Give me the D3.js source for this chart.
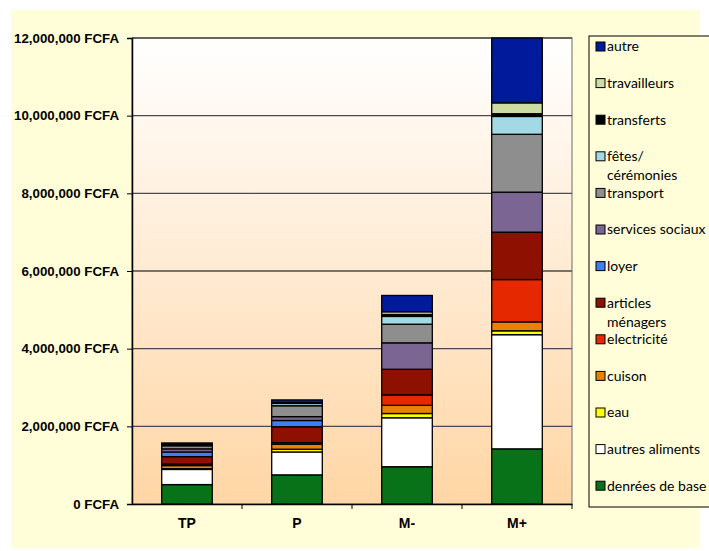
<!DOCTYPE html>
<html>
<head>
<meta charset="utf-8">
<script src="https://cdn.jsdelivr.net/npm/d3@7"></script>
<style>
  html, body { margin: 0; padding: 0; background: #ffffff; }
  svg { display: block; }
</style>
</head>
<body>
<svg id="chart" width="709" height="551"></svg>
<script>
// Household groups
const categories = ["TP", "P", "M-", "M+"];

// Monthly spending per expense type (FCFA), one value per group
const denreesDeBase    = [500000, 750000, 960000, 1420000];
const autresAliments   = [390000, 590000, 1260000, 2940000];
const eau              = [20000, 70000, 110000, 100000];
const cuison           = [80000, 130000, 210000, 230000];
const electricite      = [40000, 40000, 270000, 1090000];
const articlesMenagers = [190000, 410000, 660000, 1220000];
const loyer            = [120000, 160000, 0, 0];
const servicesSociaux  = [80000, 100000, 680000, 1030000];
const transport        = [80000, 280000, 480000, 1490000];
const fetesCeremonies  = [10000, 60000, 200000, 460000];
const transferts       = [50000, 10000, 50000, 70000];
const travailleurs     = [0, 10000, 70000, 280000];
const autre            = [10000, 70000, 420000, 1670000];

// Stack order, bottom to top
const seriesNames = ["denrées de base", "autres aliments", "eau", "cuison", "electricité",
  "articles ménagers", "loyer", "services sociaux", "transport", "fêtes/ cérémonies",
  "transferts", "travailleurs", "autre"];
const seriesValues = [denreesDeBase, autresAliments, eau, cuison, electricite,
  articlesMenagers, loyer, servicesSociaux, transport, fetesCeremonies,
  transferts, travailleurs, autre];
const seriesColors = ["#077217", "#ffffff", "#ffff00", "#e88200", "#e52800",
  "#8e1000", "#3f7fef", "#7a6593", "#8e8e8e", "#a3d8e5",
  "#000000", "#ccdca3", "#001a9c"];

// Legend lines (top to bottom)
const legendLabels = [["autre"], ["travailleurs"], ["transferts"], ["fêtes/", "cérémonies"],
  ["transport"], ["services sociaux"], ["loyer"], ["articles", "ménagers"], ["electricité"],
  ["cuison"], ["eau"], ["autres aliments"], ["denrées de base"]];

const yTicks = [0, 2000000, 4000000, 6000000, 8000000, 10000000, 12000000];

const svg = d3.select("#chart");
const plot = { left: 132, right: 572, top: 38, bottom: 504 };

// Outer background
svg.append("rect").attr("x", 11).attr("y", 10).attr("width", 689).attr("height", 538)
  .attr("fill", "#fffed8");

// Plot-area gradient
const defs = svg.append("defs");
const grad = defs.append("linearGradient").attr("id", "plotGrad")
  .attr("x1", 0).attr("y1", 0).attr("x2", 0).attr("y2", 1);
grad.append("stop").attr("offset", "0%").attr("stop-color", "#ffffff");
grad.append("stop").attr("offset", "100%").attr("stop-color", "#ffd6a5");

svg.append("rect").attr("x", plot.left).attr("y", plot.top)
  .attr("width", plot.right - plot.left).attr("height", plot.bottom - plot.top)
  .attr("fill", "url(#plotGrad)").attr("stroke", "#6b6b6b").attr("stroke-width", 1);

const x = d3.scaleBand().domain(categories).range([plot.left, plot.right])
  .paddingInner(0.54).paddingOuter(0.27);
const y = d3.scaleLinear().domain([0, 12000000]).range([plot.bottom, plot.top]);

// Gridlines
svg.append("g").selectAll("line").data(yTicks.slice(1)).join("line")
  .attr("x1", plot.left).attr("x2", plot.right)
  .attr("y1", d => y(d)).attr("y2", d => y(d))
  .attr("stroke", "#4a4a4a").attr("stroke-width", 1.3);

// Stacked bars
const rows = categories.map((c, i) => {
  const r = { cat: c };
  seriesNames.forEach((s, j) => { r[s] = seriesValues[j][i]; });
  return r;
});
const stacked = d3.stack().keys(seriesNames)(rows);

const layers = svg.append("g").selectAll("g").data(stacked).join("g")
  .attr("fill", (d, i) => seriesColors[i]);
layers.selectAll("rect").data(d => d.filter(p => p[1] - p[0] > 0)).join("rect")
  .attr("x", d => x(d.data.cat))
  .attr("width", x.bandwidth())
  .attr("y", d => y(d[1]))
  .attr("height", d => y(d[0]) - y(d[1]))
  .attr("stroke", "#000000").attr("stroke-width", 1.3);

// Y axis
const yAxis = svg.append("g").attr("transform", `translate(${plot.left},0)`)
  .call(d3.axisLeft(y).tickValues(yTicks).tickSize(5).tickPadding(8)
    .tickFormat(d => d3.format(",")(d) + " FCFA"));
yAxis.select(".domain").attr("stroke", "#000").attr("stroke-width", 1.5);
yAxis.selectAll(".tick line").attr("stroke", "#000");
yAxis.selectAll("text").attr("font-family", "'Liberation Sans', Arial, sans-serif")
  .attr("font-size", "13.3px").attr("font-weight", "bold").attr("fill", "#000");

// X axis
const xAxis = svg.append("g").attr("transform", `translate(0,${plot.bottom})`)
  .call(d3.axisBottom(x).tickSize(0).tickPadding(14));
xAxis.select(".domain").attr("stroke", "#000").attr("stroke-width", 1.5);
xAxis.selectAll("text").attr("font-family", "'Liberation Sans', Arial, sans-serif")
  .attr("font-size", "14px").attr("font-weight", "bold").attr("fill", "#000");
// Tick marks between groups
const boundaries = categories.map(c => x(c) + x.bandwidth() / 2 + x.step() / 2);
xAxis.selectAll(".sep").data(boundaries).join("line").attr("class", "sep")
  .attr("x1", d => d).attr("x2", d => d).attr("y1", 0).attr("y2", 5)
  .attr("stroke", "#000");

// Legend
const legend = svg.append("g");
legend.append("rect").attr("x", 589).attr("y", 36).attr("width", 130).attr("height", 471)
  .attr("fill", "#fffed8").attr("stroke", "#000").attr("stroke-width", 1);
const entryY = i => 46.5 + i * 36.6;
const legendColors = seriesColors.slice().reverse();
legendLabels.forEach((lines, i) => {
  const cy = entryY(i);
  legend.append("rect").attr("x", 596).attr("y", cy - 4.5).attr("width", 9).attr("height", 9)
    .attr("fill", legendColors[i]).attr("stroke", "#000").attr("stroke-width", 1);
  lines.forEach((t, k) => {
    legend.append("text").attr("x", 607).attr("y", cy + 4.8 + k * 19)
      .attr("font-family", "Lato, 'Open Sans', sans-serif").attr("font-size", "14px")
      .attr("fill", "#000").text(t);
  });
});
</script>
</body>
</html>
